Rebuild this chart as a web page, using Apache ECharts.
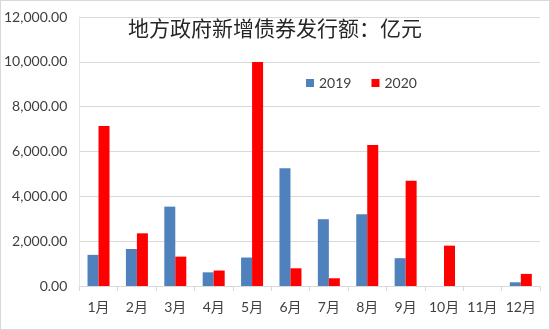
<!DOCTYPE html>
<html><head><meta charset="utf-8">
<script src="https://cdn.jsdelivr.net/npm/echarts@6/dist/echarts.min.js"></script>
<style>
html,body{margin:0;padding:0;background:#fff;}
#c{width:548px;height:328px;border:1px solid #d9d9d9;}
</style></head>
<body><div id="c"></div>
<script>
const categories = ['1月','2月','3月','4月','5月','6月','7月','8月','9月','10月','11月','12月'];
const series2019 = [1390, 1650, 3540, 610, 1270, 5250, 2980, 3200, 1240, 0, 0, 165];
const series2020 = [7140, 2350, 1310, 690, 9990, 790, 345, 6290, 4690, 1800, 0, 540];
const yTicks = [0, 2000, 4000, 6000, 8000, 10000, 12000];
const titleText = '地方政府新增债券发行额：亿元';

const FONT = "Lato, 'Noto Sans CJK SC', sans-serif";
const chart = echarts.init(document.getElementById('c'));
chart.setOption({
  animation: false,
  title: {
    text: titleText, left: 122, top: 12,
    textStyle: {fontFamily: "'Noto Sans CJK SC', sans-serif", fontSize: 21, fontWeight: 'normal', color: '#262626'}
  },
  legend: {
    data: ['2019', '2020'], left: 300, top: 70, itemWidth: 8, itemHeight: 8, itemGap: 20,
    textStyle: {fontFamily: FONT, fontSize: 14, color: '#404040'}, icon: 'rect'
  },
  grid: {left: 76, right: 9, top: 16, bottom: 43, containLabel: false},
  xAxis: {
    type: 'category', data: categories,
    axisLine: {lineStyle: {color: '#d9d9d9'}},
    axisTick: {show: true, length: 5, lineStyle: {color: '#d9d9d9'}},
    axisLabel: {interval: 0, fontFamily: FONT, fontSize: 14, color: '#404040', margin: 14}
  },
  yAxis: {
    type: 'value', min: yTicks[0], max: yTicks[yTicks.length-1], interval: 2000,
    axisLine: {show: true, lineStyle: {color: '#e6e6e6'}}, axisTick: {show: false},
    splitLine: {lineStyle: {color: '#d9d9d9'}},
    axisLabel: {fontFamily: FONT, fontSize: 14, color: '#404040', margin: 12,
      formatter: v => v.toLocaleString('en-US', {minimumFractionDigits: 2, maximumFractionDigits: 2})}
  },
  series: [
    {name: '2019', type: 'bar', data: series2019, barWidth: 11, barGap: '0%', itemStyle: {color: '#4F81BD'}},
    {name: '2020', type: 'bar', data: series2020, barWidth: 11, itemStyle: {color: '#FF0000'}}
  ]
});
</script></body></html>
